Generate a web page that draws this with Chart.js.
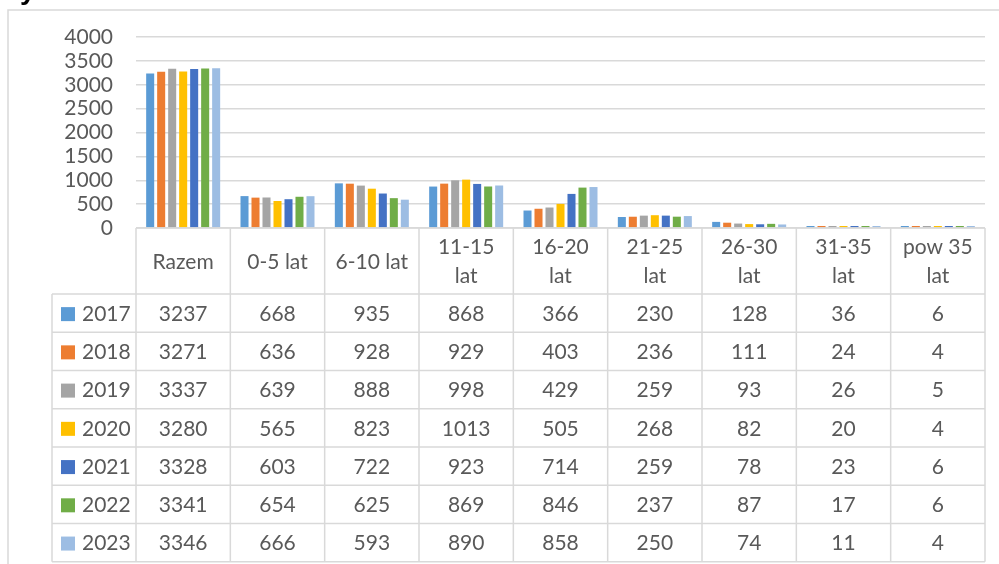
<!DOCTYPE html>
<html>
<head>
<meta charset="utf-8">
<script src="https://cdn.jsdelivr.net/npm/chart.js@4.4.0/dist/chart.umd.min.js"></script>
<style>
  html, body { margin: 0; padding: 0; background: #fff; overflow: hidden; }
</style>
</head>
<body>
<canvas id="myChart" width="999" height="564"></canvas>
<script>
// categories (header lines of the data table)
const categories = [
  ["Razem"], ["0-5 lat"], ["6-10 lat"], ["11-15", "lat"], ["16-20", "lat"],
  ["21-25", "lat"], ["26-30", "lat"], ["31-35", "lat"], ["pow 35", "lat"]
];
const years = ["2017", "2018", "2019", "2020", "2021", "2022", "2023"];

// values per year
const v2017 = [3237, 668, 935, 868, 366, 230, 128, 36, 6];
const v2018 = [3271, 636, 928, 929, 403, 236, 111, 24, 4];
const v2019 = [3337, 639, 888, 998, 429, 259, 93, 26, 5];
const v2020 = [3280, 565, 823, 1013, 505, 268, 82, 20, 4];
const v2021 = [3328, 603, 722, 923, 714, 259, 78, 23, 6];
const v2022 = [3341, 654, 625, 869, 846, 237, 87, 17, 6];
const v2023 = [3346, 666, 593, 890, 858, 250, 74, 11, 4];
const values = [v2017, v2018, v2019, v2020, v2021, v2022, v2023];

const colors = ["#5B9BD5", "#ED7D31", "#A5A5A5", "#FFC000", "#4472C4", "#70AD47", "#9DBDE3"];

const yMax = 4000;
const yStep = 500;

const textColor = "#595959";
const lineColor = "#d9d9d9";
const font = "Lato";

// frame + white background
const framePlugin = {
  id: "frame",
  beforeDraw(chart) {
    const ctx = chart.ctx;
    ctx.save();
    ctx.fillStyle = "#fff";
    ctx.fillRect(0, 0, chart.width, chart.height);
    ctx.strokeStyle = lineColor;
    ctx.lineWidth = 1.5;
    ctx.beginPath();
    ctx.moveTo(8, chart.height);
    ctx.lineTo(8, 10);
    ctx.lineTo(chart.width, 10);
    ctx.stroke();
    // bit of the title above, cut off
    ctx.fillStyle = "#000";
    ctx.font = "bold 28px 'Liberation Sans'";
    ctx.textBaseline = "alphabetic";
    ctx.fillText("y", 20, -1);
    ctx.restore();
  }
};

// data table under the plot
const tablePlugin = {
  id: "dataTable",
  afterDraw(chart) {
    const ctx = chart.ctx;
    const x = chart.scales.x;
    const y = chart.scales.y;
    const top = y.getPixelForValue(0);
    const headH = 66;
    const rowH = 38.24;
    const legendLeft = 52;
    const step = (x.right - x.left) / categories.length;
    const bottom = top + headH + years.length * rowH;

    ctx.save();
    ctx.strokeStyle = lineColor;
    ctx.lineWidth = 1.5;
    const line = (x1, y1, x2, y2) => {
      ctx.beginPath();
      ctx.moveTo(x1, y1);
      ctx.lineTo(x2, y2);
      ctx.stroke();
    };
    line(x.left, top, x.right, top);
    for (let r = 0; r <= years.length; r++) {
      const yy = top + headH + r * rowH;
      line(legendLeft, yy, x.right, yy);
    }
    for (let c = 0; c <= categories.length; c++) {
      const xx = x.left + c * step;
      line(xx, top, xx, bottom);
    }
    line(legendLeft, top + headH, legendLeft, bottom);

    ctx.fillStyle = textColor;
    ctx.font = "21px " + font;
    ctx.textAlign = "center";
    ctx.textBaseline = "middle";

    // header
    categories.forEach((lines, i) => {
      const cx = x.getPixelForValue(i);
      const cy = top + headH / 2 + 1;
      if (lines.length === 1) {
        ctx.fillText(lines[0], cx, cy);
      } else {
        ctx.fillText(lines[0], cx, cy - 15);
        ctx.fillText(lines[1], cx, cy + 14);
      }
    });

    // rows
    years.forEach((yr, r) => {
      const cy = top + headH + r * rowH + rowH / 2 + 1;
      ctx.fillStyle = colors[r];
      ctx.fillRect(61, cy - 7, 14, 14);
      ctx.fillStyle = textColor;
      ctx.textAlign = "left";
      ctx.fillText(yr, 82, cy);
      ctx.textAlign = "center";
      values[r].forEach((v, i) => {
        ctx.fillText(String(v), x.getPixelForValue(i), cy);
      });
    });
    ctx.restore();
  }
};

new Chart(document.getElementById("myChart").getContext("2d"), {
  type: "bar",
  data: {
    labels: categories,
    datasets: years.map((yr, i) => ({
      label: yr,
      data: values[i],
      backgroundColor: colors[i],
      borderWidth: 0,
      minBarLength: 2,
      categoryPercentage: 0.816,
      barPercentage: 0.73
    }))
  },
  options: {
    responsive: false,
    animation: false,
    layout: { padding: { left: 0, right: 14, top: 37, bottom: 336 } },
    plugins: {
      legend: { display: false },
      tooltip: { enabled: false }
    },
    scales: {
      x: { display: false },
      y: {
        min: 0,
        max: yMax,
        ticks: {
          stepSize: yStep,
          autoSkip: false,
          callback: (v) => String(v),
          color: textColor,
          padding: 23,
          font: { family: font, size: 21 }
        },
        grid: { color: lineColor, lineWidth: 1.5, drawTicks: false },
        border: { display: false },
        afterFit(scale) { scale.width = 136; }
      }
    }
  },
  plugins: [framePlugin, tablePlugin]
});
</script>
</body>
</html>
